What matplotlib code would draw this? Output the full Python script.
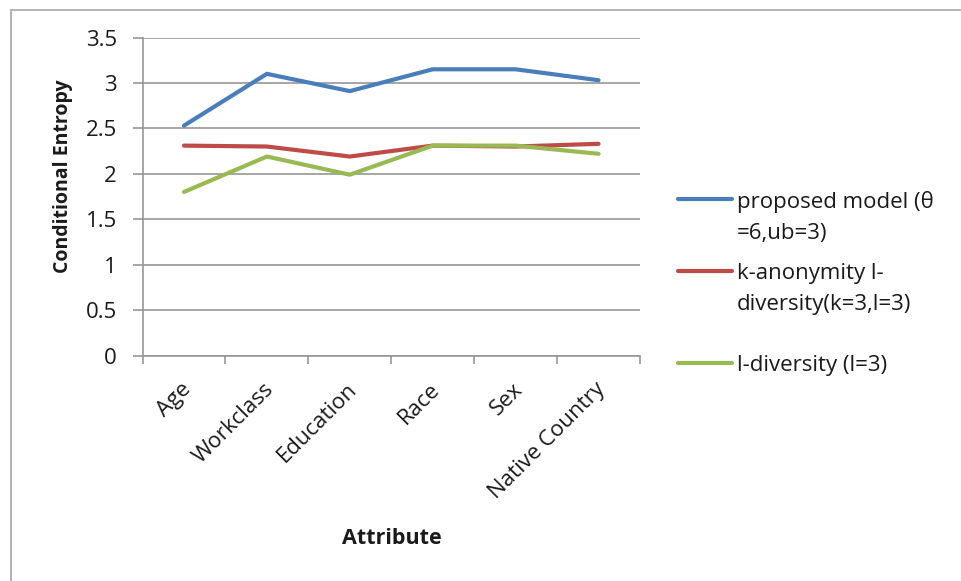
import matplotlib
matplotlib.use("Agg")
import matplotlib.pyplot as plt
import matplotlib.transforms as mtransforms
from matplotlib.lines import Line2D
from matplotlib.patches import Rectangle

plt.rcParams['font.family'] = ['Open Sans', 'DejaVu Sans']

# ---- data -------------------------------------------------------------
attributes = ["Age", "Workclass", "Education", "Race", "Sex", "Native Country"]
proposed = [2.53, 3.10, 2.91, 3.15, 3.15, 3.03]
k_anon_l_div = [2.31, 2.30, 2.19, 2.31, 2.30, 2.33]
l_div = [1.80, 2.19, 1.99, 2.31, 2.31, 2.22]

series_labels = ["proposed model (\u03b8\n=6,ub=3)",
                 "k-anonymity l-\ndiversity(k=3,l=3)",
                 "l-diversity (l=3)"]
series_colors = ["#4a7ebb", "#be4b48", "#98b954"]

y_ticks = [0, 0.5, 1, 1.5, 2, 2.5, 3, 3.5]
y_tick_labels = ["0", "0.5", "1", "1.5", "2", "2.5", "3", "3.5"]

# ---- figure -----------------------------------------------------------
W, H = 961, 581
fig = plt.figure(figsize=(W / 100, H / 100), dpi=100)
fig.patch.set_facecolor("white")

def fx(px):
    return px / W

def fy(py):
    return 1 - py / H

# chart frame (left and top edges visible)
fig.add_artist(Rectangle((fx(11), -0.05), 1.2, fy(10) + 0.05,
                         transform=fig.transFigure, fill=False,
                         edgecolor="#a6a6a6", linewidth=1.2))

ax_l, ax_r, ax_t, ax_b = 142.5, 640, 37.5, 355.5
ax = fig.add_axes([fx(ax_l), fy(ax_b), fx(ax_r - ax_l), (ax_b - ax_t) / H])

grid_color = "#979797"
text_color = "#1a1a1a"
n = len(attributes)
centers = [i + 0.5 for i in range(n)]

all_series = [proposed, k_anon_l_div, l_div]
for vals, col in zip(all_series, series_colors):
    ax.plot(centers, vals, color=col, linewidth=3.0,
            solid_joinstyle="round", solid_capstyle="round", zorder=3)

ax.set_xlim(0, n)
ax.set_ylim(0, 3.5)

# y axis
ax.set_yticks(y_ticks, y_tick_labels)
ax.yaxis.grid(True, color=grid_color, linewidth=1.2)
ax.set_axisbelow(True)
ax.tick_params(axis="y", direction="out", length=7.5, width=1.2,
               color=grid_color, pad=11.0, labelsize=16, labelcolor=text_color)

# x axis: boundary ticks, labels at category centres
ax.set_xticks(range(n + 1), [""] * (n + 1))
ax.tick_params(axis="x", which="major", direction="out", length=6,
               width=1.2, color=grid_color)
ax.set_xticks(centers, attributes, minor=True)
ax.tick_params(axis="x", which="minor", length=0, pad=22,
               labelsize=16, labelcolor=text_color)
shift = mtransforms.ScaledTranslation(4 / 100, 0, fig.dpi_scale_trans)
for lab in ax.get_xticklabels(minor=True):
    lab.set_rotation(45)
    lab.set_ha("right")
    lab.set_va("center")
    lab.set_rotation_mode("anchor")
    lab.set_transform(lab.get_transform() + shift)

for side in ("top", "right"):
    ax.spines[side].set_visible(False)
for side in ("left", "bottom"):
    ax.spines[side].set_color(grid_color)
    ax.spines[side].set_linewidth(1.2)

ax.set_ylabel("Conditional Entropy", fontsize=14, fontweight="bold",
              color=text_color)
ax.yaxis.label.set_va("center")
ax.yaxis.set_label_coords((63 - ax_l) / (ax_r - ax_l),
                          (ax_b - 176) / (ax_b - ax_t))
ax.set_xlabel("Attribute", fontsize=15.5, fontweight="bold", color=text_color)
ax.xaxis.label.set_va("center")
ax.xaxis.set_label_coords((392 - ax_l) / (ax_r - ax_l),
                          (ax_b - 538) / (ax_b - ax_t))

# legend: handle level with the first line of each entry
legend_rows = [199, 271, 363]
for lbl, col, row in zip(series_labels, series_colors, legend_rows):
    fig.add_artist(Line2D([fx(678), fx(732)], [fy(row), fy(row)],
                          transform=fig.transFigure, color=col,
                          linewidth=3.0, solid_capstyle="round"))
    fig.text(fx(737), fy(row - 8), lbl, fontsize=16, color=text_color,
             va="top", ha="left", linespacing=1.6)

fig.savefig("out.png", dpi=100, facecolor="white")
